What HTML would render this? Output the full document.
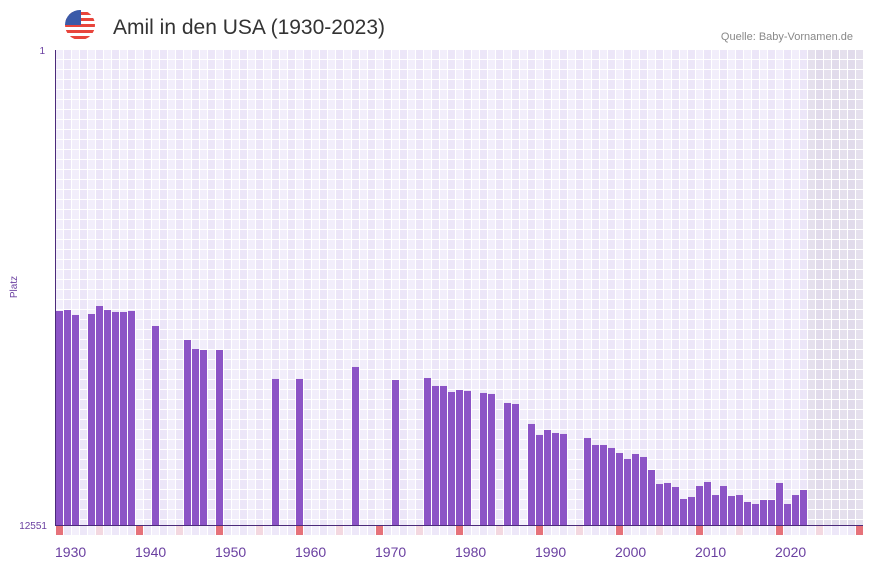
<!DOCTYPE html>
<html><head><meta charset="utf-8"><style>
body{margin:0;background:#fff;width:873px;height:567px;overflow:hidden;font-family:"Liberation Sans",sans-serif}
</style></head><body>
<svg id="c" width="873" height="567" xmlns="http://www.w3.org/2000/svg">
<g>
<clipPath id="fc"><circle cx="80" cy="25" r="15"/></clipPath>
<g clip-path="url(#fc)">
<rect x="65" y="10" width="30" height="30" fill="#fff"/>
<rect x="65" y="12" width="30" height="3" fill="#e8453c"/>
<rect x="65" y="18" width="30" height="3" fill="#e8453c"/>
<rect x="65" y="24" width="30" height="3" fill="#e8453c"/>
<rect x="65" y="30" width="30" height="3" fill="#e8453c"/>
<rect x="65" y="36" width="30" height="3" fill="#e8453c"/>
<rect x="65" y="10" width="16" height="15" fill="#3b5aa8"/>
</g></g>
<text x="113" y="34" font-size="21" fill="#333">Amil in den USA (1930-2023)</text>
<text x="853" y="40" font-size="11" fill="#888" text-anchor="end">Quelle: Baby-Vornamen.de</text>
<text x="17" y="287" font-size="10" fill="#6a3fa0" text-anchor="middle" transform="rotate(-90 17 287)">Platz</text>
<g id="grid"></g><g id="bars"></g><g id="marks"></g><g id="xl"></g>
<line x1="55.5" y1="50" x2="55.5" y2="525" stroke="#4b2a7a" stroke-width="1"/>
<line x1="55" y1="525.5" x2="863" y2="525.5" stroke="#4b2a7a" stroke-width="1"/>
<text x="45" y="54" font-size="10" fill="#6a3fa0" text-anchor="end">1</text>
<text x="47" y="529" font-size="10" fill="#6a3fa0" text-anchor="end">12551</text>
</svg>
<script>
const years=[1930,1931,1932,1934,1935,1936,1937,1938,1939,1942,1946,1947,1948,1950,1957,1960,1967,1972,1976,1977,1978,1979,1980,1981,1983,1984,1986,1987,1989,1990,1991,1992,1993,1996,1997,1998,1999,2000,2001,2002,2003,2004,2005,2006,2007,2008,2009,2010,2011,2012,2013,2014,2015,2016,2017,2018,2019,2020,2021,2022,2023];
const ranks=[6897,6871,7002,6976,6765,6871,6923,6923,6897,7293,7663,7901,7927,7927,8693,8693,8376,8720,8667,8878,8878,9037,8984,9010,9063,9089,9327,9354,9882,10172,10040,10120,10146,10252,10437,10437,10516,10649,10807,10675,10754,11098,11468,11441,11547,11864,11811,11521,11415,11759,11521,11785,11759,11943,11996,11891,11891,11441,11996,11759,11626];
const xTicks=[1930,1940,1950,1960,1970,1980,1990,2000,2010,2020];
const NS="http://www.w3.org/2000/svg";
const x0=56,cw=8,startY=1930,nCols=101,plotTop=50,plotBot=525,rMin=1,rMax=12551;
const xs=y=>x0+(y-startY)*cw;
const ys=r=>plotTop+(r-rMin)/(rMax-rMin)*(plotBot-plotTop);
function mk(t,a,p){const e=document.createElementNS(NS,t);for(const k in a)e.setAttribute(k,a[k]);p.appendChild(e);return e;}
const g=document.getElementById('grid');
for(let i=0;i<nCols;i++){
  const yr=startY+i;
  const fut=yr>=2024;
  for(let y=plotTop;y<plotBot;y+=10){
    const c=mk('rect',{x:x0+i*cw,y:y,width:cw-1,height:Math.min(9,plotBot-y),fill:fut?(i%2?'#e1dbeb':'#e5e0ed'):(i%2?'#ece6f8':'#f2eefb')},g);
    
    
  }
}
const bg=document.getElementById('bars');
for(let i=0;i<years.length;i++){
  const y=ys(ranks[i]);
  const b=mk('rect',{x:xs(years[i]),y:y,width:7,height:plotBot-y,fill:'#8c54c6'},bg);
  
  
}
const mg=document.getElementById('marks');
for(let i=0;i<nCols;i++){
  const yr=startY+i;
  const col=yr%10===0?'#e6727a':(yr%5===0?'#f3d8e0':(i%2?'#ede7f8':'#f3effb'));
  const m=mk('rect',{x:x0+i*cw,y:526,width:7,height:9,fill:col},mg);
  
  
}
const xl=document.getElementById('xl');
for(const t of xTicks){
  const e=mk('text',{x:xs(t)-1,y:557,'font-size':14,fill:'#6a3fa0'},xl);
  e.textContent=t;
  
  
}
</script>
</body></html>
